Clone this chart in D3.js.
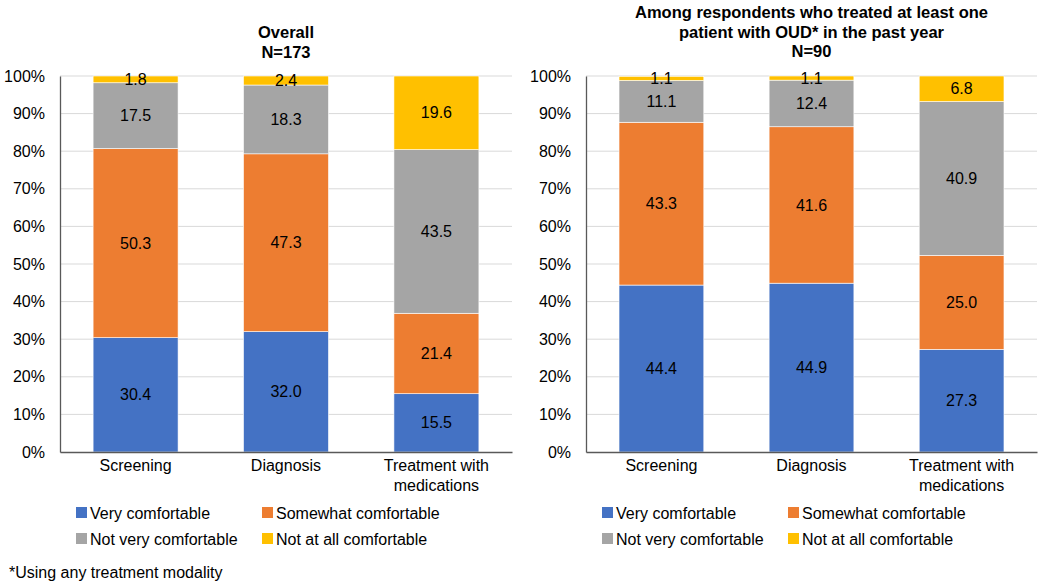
<!DOCTYPE html>
<html>
<head>
<meta charset="utf-8">
<script src="https://cdn.jsdelivr.net/npm/d3@7"></script>
<style>
  body { margin: 0; background: #fff; }
  svg { font-family: "Liberation Sans", Arial, sans-serif; }
</style>
</head>
<body>
<svg id="chart" width="1050" height="584"></svg>
<script>
/* ============================
   Data
============================ */

const categories = ["Screening", "Diagnosis", "Treatment with medications"];
const seriesNames = ["Very comfortable", "Somewhat comfortable", "Not very comfortable", "Not at all comfortable"];
const seriesColors = ["#4472C4", "#ED7D31", "#A5A5A5", "#FFC000"];
const yTicks = [0, 10, 20, 30, 40, 50, 60, 70, 80, 90, 100];

// values per category, in series order
const overallValues = [
  [30.4, 50.3, 17.5, 1.8],
  [32.0, 47.3, 18.3, 2.4],
  [15.5, 21.4, 43.5, 19.6]
];
const treatedValues = [
  [44.4, 43.3, 11.1, 1.1],
  [44.9, 41.6, 12.4, 1.1],
  [27.3, 25.0, 40.9, 6.8]
];

const overallTitle = ["Overall", "N=173"];
const treatedTitle = ["Among respondents who treated at least one", "patient with OUD* in the past year", "N=90"];
const footnote = "*Using any treatment modality";

/* ============================
   Panel
============================ */

const svg = d3.select("#chart");

function wrapCategory(name) {
  return name === "Treatment with medications" ? ["Treatment with", "medications"] : [name];
}

function renderPanel(opts) {
  const { left, right, values, title, titleY } = opts;
  const top = 76, bottom = 452;

  const g = svg.append("g");

  const x = d3.scaleBand()
    .domain(categories)
    .range([left, right])
    .paddingInner(0.435)
    .paddingOuter(0.22);

  const y = d3.scaleLinear()
    .domain([0, 100])
    .range([bottom, top]);

  // gridlines
  g.selectAll("line.grid")
    .data(yTicks.filter(t => t > 0))
    .enter()
    .append("line")
    .attr("x1", left)
    .attr("x2", right)
    .attr("y1", d => y(d))
    .attr("y2", d => y(d))
    .attr("stroke", "#D9D9D9")
    .attr("stroke-width", 1);

  // stacked bars
  const rows = categories.map((c, i) => {
    const r = { category: c };
    seriesNames.forEach((s, j) => r[s] = values[i][j]);
    return r;
  });
  const stacked = d3.stack().keys(seriesNames)(rows);

  const layers = g.selectAll("g.layer")
    .data(stacked)
    .enter()
    .append("g")
    .attr("fill", (d, i) => seriesColors[i]);

  layers.selectAll("rect")
    .data(d => d)
    .enter()
    .append("rect")
    .attr("x", d => x(d.data.category))
    .attr("width", x.bandwidth())
    .attr("y", d => y(d[1]))
    .attr("height", d => y(d[0]) - y(d[1]))
    .attr("stroke", "#fff")
    .attr("stroke-width", 0.6);

  layers.selectAll("text")
    .data(d => d.map(v => ({ v, key: d.key })))
    .enter()
    .append("text")
    .attr("x", d => x(d.v.data.category) + x.bandwidth() / 2)
    .attr("y", d => (y(d.v[0]) + y(d.v[1])) / 2)
    .attr("dy", "0.35em")
    .attr("text-anchor", "middle")
    .attr("font-size", 16)
    .attr("fill", "#000")
    .text(d => d.v.data[d.key].toFixed(1));

  // y axis
  const yAxis = g.append("g")
    .attr("transform", `translate(${left},0)`)
    .call(d3.axisLeft(y).tickValues(yTicks).tickSize(0).tickPadding(15).tickFormat(d => d + "%"));
  yAxis.select(".domain").attr("stroke", "#595959").attr("stroke-width", 1.3);
  yAxis.selectAll("text").attr("font-size", 16).attr("fill", "#000")
    .attr("font-family", "'Liberation Sans', Arial, sans-serif");

  // x axis
  const xAxis = g.append("g")
    .attr("transform", `translate(0,${bottom})`)
    .call(d3.axisBottom(x).tickSize(0).tickFormat(""));
  xAxis.select(".domain").attr("stroke", "#595959").attr("stroke-width", 1.3);

  categories.forEach(c => {
    const lines = wrapCategory(c);
    const t = g.append("text")
      .attr("text-anchor", "middle")
      .attr("font-size", 16)
      .attr("fill", "#000");
    lines.forEach((ln, k) => {
      t.append("tspan")
        .attr("x", x(c) + x.bandwidth() / 2)
        .attr("y", 471 + k * 20)
        .text(ln);
    });
  });

  // title
  const cx = (left + right) / 2;
  title.forEach((ln, k) => {
    g.append("text")
      .attr("x", cx)
      .attr("y", titleY + k * 19.5)
      .attr("text-anchor", "middle")
      .attr("font-size", 16.5)
      .attr("font-weight", "bold")
      .attr("fill", "#000")
      .text(ln);
  });

  // legend
  const colX = [left + 16, left + 202];
  seriesNames.forEach((s, i) => {
    const lx = colX[i % 2];
    const ly = 513 + Math.floor(i / 2) * 26;
    g.append("rect")
      .attr("x", lx)
      .attr("y", ly - 6)
      .attr("width", 11)
      .attr("height", 11)
      .attr("fill", seriesColors[i]);
    g.append("text")
      .attr("x", lx + 14)
      .attr("y", ly)
      .attr("dy", "0.35em")
      .attr("font-size", 16)
      .attr("fill", "#000")
      .text(s);
  });
}

renderPanel({ left: 60, right: 512, values: overallValues, title: overallTitle, titleY: 38 });
renderPanel({ left: 586, right: 1037, values: treatedValues, title: treatedTitle, titleY: 18 });

svg.append("text")
  .attr("x", 9)
  .attr("y", 578)
  .attr("font-size", 16)
  .attr("fill", "#000")
  .text(footnote);
</script>
</body>
</html>
